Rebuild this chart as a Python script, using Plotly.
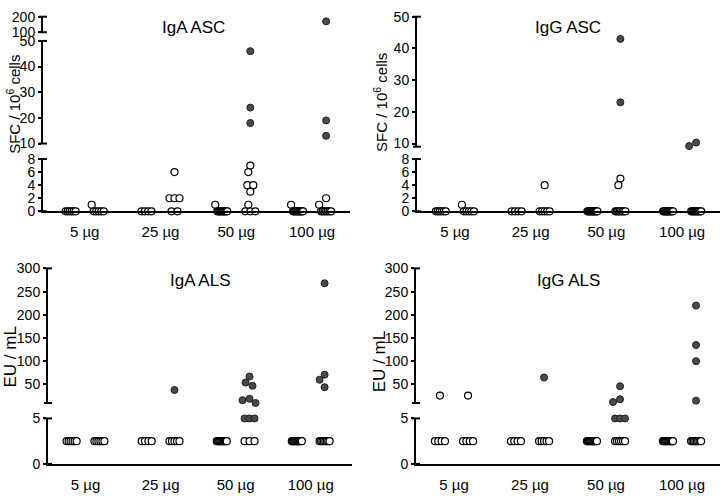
import math
import plotly.graph_objects as go

W, H = 722, 501

# ---------------- data ----------------
DOSES = ["5 µg", "25 µg", "50 µg", "100 µg"]

# IgA ASC (SFC / 10^6 cells)
IGA_ASC_OPEN_L = [[0, 0, 0, 0, 0, 0], [0, 0, 0, 0], [1, 0, 0, 0, 0, 0, 0, 0, 0, 0, 0, 0], [1, 0, 0, 0, 0, 0, 0, 0, 0, 0, 0, 0]]
IGA_ASC_FILL_L = [[], [], [], []]
IGA_ASC_OPEN_R = [[1, 0, 0, 0, 0, 0], [6, 2, 2, 2, 0, 0], [7, 6, 4, 4, 3, 1, 0, 0, 0], [2, 1, 0, 0, 0, 0, 0, 0, 0]]
IGA_ASC_FILL_R = [[], [], [46, 24, 18], [170, 19, 13]]

# IgG ASC (SFC / 10^6 cells)
IGG_ASC_OPEN_L = [[0, 0, 0, 0, 0, 0], [0, 0, 0, 0], [0, 0, 0, 0, 0, 0, 0, 0, 0, 0, 0, 0], [0, 0, 0, 0, 0, 0, 0, 0, 0, 0, 0, 0]]
IGG_ASC_FILL_L = [[], [], [], []]
IGG_ASC_OPEN_R = [[1, 0, 0, 0, 0, 0], [4, 0, 0, 0, 0, 0], [5, 4, 0, 0, 0, 0, 0, 0, 0, 0], [0, 0, 0, 0, 0, 0, 0, 0, 0, 0]]
IGG_ASC_FILL_R = [[], [], [43, 23], [10.3, 9.2]]

# IgA ALS (EU / mL)
IGA_ALS_OPEN_L = [[2.5, 2.5, 2.5, 2.5, 2.5, 2.5], [2.5, 2.5, 2.5, 2.5], [2.5, 2.5, 2.5, 2.5, 2.5, 2.5, 2.5, 2.5, 2.5, 2.5, 2.5, 2.5], [2.5, 2.5, 2.5, 2.5, 2.5, 2.5, 2.5, 2.5, 2.5, 2.5, 2.5, 2.5]]
IGA_ALS_FILL_L = [[], [], [], []]
IGA_ALS_OPEN_R = [[2.5, 2.5, 2.5, 2.5, 2.5, 2.5], [2.5, 2.5, 2.5, 2.5, 2.5], [2.5, 2.5, 2.5], [2.5, 2.5, 2.5, 2.5, 2.5, 2.5, 2.5, 2.5]]
IGA_ALS_FILL_R = [[], [38], [67, 54, 47, 19, 16, 10, 5, 5, 5], [268, 71, 60, 44]]

# IgG ALS (EU / mL)
IGG_ALS_OPEN_L = [[26, 2.5, 2.5, 2.5, 2.5], [2.5, 2.5, 2.5, 2.5], [2.5, 2.5, 2.5, 2.5, 2.5, 2.5, 2.5, 2.5, 2.5, 2.5, 2.5, 2.5], [2.5, 2.5, 2.5, 2.5, 2.5, 2.5, 2.5, 2.5, 2.5, 2.5, 2.5, 2.5]]
IGG_ALS_FILL_L = [[], [], [], []]
IGG_ALS_OPEN_R = [[26, 2.5, 2.5, 2.5, 2.5], [2.5, 2.5, 2.5, 2.5, 2.5], [2.5, 2.5, 2.5, 2.5, 2.5, 2.5], [2.5, 2.5, 2.5, 2.5, 2.5, 2.5, 2.5, 2.5]]
IGG_ALS_FILL_R = [[], [65], [46, 18, 12, 5, 5, 5], [220, 135, 100, 15]]

# ---------------- layout config ----------------
FONT = "Liberation Sans, Arial, sans-serif"
# segment: (top px, bottom px, range low, range high, tick values)
PANELS = [
    dict(title="IgA ASC", ylabel="SFC / 10<sup>6</sup> cells", ylsize=15, xpx=(43, 350), xr=(0.45, 4.5),
         segs=[(9, 25, 100, 200, [100, 200]), (34, 140, 10, 50, [10, 20, 30, 40, 50]),
               (156, 210, 0, 8, [0, 2, 4, 6, 8])],
         title_px=(193, 20), ylabel_px=(14, 100),
         data=(IGA_ASC_OPEN_L, IGA_ASC_FILL_L, IGA_ASC_OPEN_R, IGA_ASC_FILL_R)),
    dict(title="IgG ASC", ylabel="SFC / 10<sup>6</sup> cells", ylsize=15, xpx=(417, 720), xr=(0.5, 4.5),
         segs=[(9, 143.3, 9, 50, [10, 20, 30, 40, 50]), (156, 210, 0, 8, [0, 2, 4, 6, 8])],
         title_px=(568, 20), ylabel_px=(381, 97),
         data=(IGG_ASC_OPEN_L, IGG_ASC_FILL_L, IGG_ASC_OPEN_R, IGG_ASC_FILL_R)),
    dict(title="IgA ALS", ylabel="EU / mL", ylsize=17, xpx=(48, 352), xr=(0.5, 4.55),
         segs=[(269, 408, 10, 300, [50, 100, 150, 200, 250, 300]), (424, 471, 0, 5, [0, 5])],
         title_px=(200, 282), ylabel_px=(10, 361),
         data=(IGA_ALS_OPEN_L, IGA_ALS_FILL_L, IGA_ALS_OPEN_R, IGA_ALS_FILL_R)),
    dict(title="IgG ALS", ylabel="EU / mL", ylsize=17, xpx=(416, 720), xr=(0.5, 4.5),
         segs=[(269, 408, 10, 300, [50, 100, 150, 200, 250, 300]), (424, 471, 0, 5, [0, 5])],
         title_px=(568, 282), ylabel_px=(379, 366),
         data=(IGG_ALS_OPEN_L, IGG_ALS_FILL_L, IGG_ALS_OPEN_R, IGG_ALS_FILL_R)),
]
COL_OFF = 0.185          # column offset within a dose group (axis units)
MARKER_D = 7.0           # collision diameter in px
MAX_SPREAD = 10.0        # px spread for tied values


def seg_index(segs, v):
    best, bd = 0, 1e9
    for i, s in enumerate(segs):
        lo, hi = s[2], s[3]
        if lo <= v <= hi:
            return i
        d = min(abs(v - lo), abs(v - hi))
        if d < bd:
            best, bd = i, d
    return best


def v2py(seg, v):
    pt, pb, lo, hi = seg[:4]
    return pb - (v - lo) / (hi - lo) * (pb - pt)


def swarm(vals, segs):
    n = len(vals)
    ys = [v2py(segs[seg_index(segs, v)], v) for v in vals]
    off = [None] * n
    groups = {}
    for i, v in enumerate(vals):
        groups.setdefault(v, []).append(i)
    for v, idx in groups.items():
        if len(idx) >= 2:
            S = min((len(idx) - 1) * 6.0, MAX_SPREAD)
            for k, i in enumerate(idx):
                off[i] = -S / 2 + k * S / (len(idx) - 1)
    singles = sorted([idx[0] for v, idx in groups.items() if len(idx) == 1], key=lambda i: -vals[i])
    cands = [0]
    for k in range(1, 10):
        cands += [-k, k]
    for i in singles:
        chosen = cands[-1]
        for c in cands:
            ok = True
            for j in range(n):
                if off[j] is None or j == i:
                    continue
                if math.hypot(c - off[j], ys[i] - ys[j]) < MARKER_D:
                    ok = False
                    break
            if ok:
                chosen = c
                break
        off[i] = chosen
    return off


fig = go.Figure()
layout = dict(width=W, height=H, margin=dict(l=0, r=0, t=0, b=0),
              plot_bgcolor="white", paper_bgcolor="white", showlegend=False,
              font=dict(family=FONT, color="black"))
shapes, annotations = [], []

OPEN_STYLE = dict(symbol="circle", size=7, color="white", line=dict(color="black", width=1.2))
FILL_STYLE = dict(symbol="circle", size=7, color="#4a4a4a", line=dict(color="#1e1e1e", width=1))

yc = 0
for p_i, P in enumerate(PANELS):
    xn = p_i + 1
    xref = "x" if xn == 1 else f"x{xn}"
    x0, x1 = P["xpx"]
    r0, r1 = P["xr"]
    pxu = (x1 - x0) / (r1 - r0)
    segs = P["segs"]
    yrefs = []
    for s_i, s in enumerate(segs):
        yc += 1
        yref = "y" if yc == 1 else f"y{yc}"
        yrefs.append(yref)
        pt, pb, lo, hi, tv = s
        layout["yaxis" if yc == 1 else f"yaxis{yc}"] = dict(
            domain=[1 - pb / H, 1 - pt / H], range=[lo, hi], anchor=xref,
            tickvals=tv, showline=True, linewidth=2, linecolor="black",
            ticks="outside", ticklen=3, tickwidth=1.5, tickcolor="black",
            tickfont=dict(size=14, family=FONT, color="black"),
            showgrid=False, zeroline=False, fixedrange=True)
        for py in (pt, pb):
            shapes.append(dict(type="line", xref="paper", yref="paper",
                               x0=(x0 - 4) / W, x1=(x0 + 4) / W, y0=1 - py / H, y1=1 - py / H,
                               line=dict(color="black", width=2)))
    layout["xaxis" if xn == 1 else f"xaxis{xn}"] = dict(
        domain=[x0 / W, x1 / W], range=[r0, r1], anchor=yrefs[-1],
        tickvals=[1, 2, 3, 4], ticktext=DOSES, showline=True, linewidth=2, linecolor="black",
        ticks="", ticklabelstandoff=6, tickfont=dict(size=15, family=FONT, color="black"),
        showgrid=False, zeroline=False, fixedrange=True)

    # points
    bins = {}
    openL, fillL, openR, fillR = P["data"]
    for g in range(4):
        for side, ol, fl in ((-1, openL[g], fillL[g]), (1, openR[g], fillR[g])):
            vals = list(ol) + list(fl)
            kinds = ["open"] * len(ol) + ["fill"] * len(fl)
            offs = swarm(vals, segs)
            for v, k, o in zip(vals, kinds, offs):
                si = seg_index(segs, v)
                key = (si, k)
                bins.setdefault(key, ([], []))
                bins[key][0].append(g + 1 + side * COL_OFF + o / pxu)
                bins[key][1].append(v)
    for kind in ("open", "fill"):
        for si in range(len(segs)):
            if (si, kind) not in bins:
                continue
            xs, ys = bins[(si, kind)]
            fig.add_trace(go.Scatter(x=xs, y=ys, mode="markers", xaxis=xref, yaxis=yrefs[si],
                                     marker=OPEN_STYLE if kind == "open" else FILL_STYLE,
                                     cliponaxis=False, hoverinfo="y"))

    tx, ty = P["title_px"]
    annotations.append(dict(text=P["title"], x=tx / W, y=1 - ty / H, xref="paper", yref="paper",
                            showarrow=False, xanchor="center", yanchor="middle",
                            font=dict(size=17, family=FONT, color="black")))
    lx, ly = P["ylabel_px"]
    annotations.append(dict(text=P["ylabel"], x=lx / W, y=1 - ly / H, xref="paper", yref="paper",
                            showarrow=False, xanchor="center", yanchor="middle", textangle=-90,
                            font=dict(size=P["ylsize"], family=FONT, color="black")))

layout["shapes"] = shapes
layout["annotations"] = annotations
fig.update_layout(**layout)
fig.write_html("out.html", config={"displayModeBar": False},
               post_script="document.body.style.margin='0';document.body.style.padding='0';")
